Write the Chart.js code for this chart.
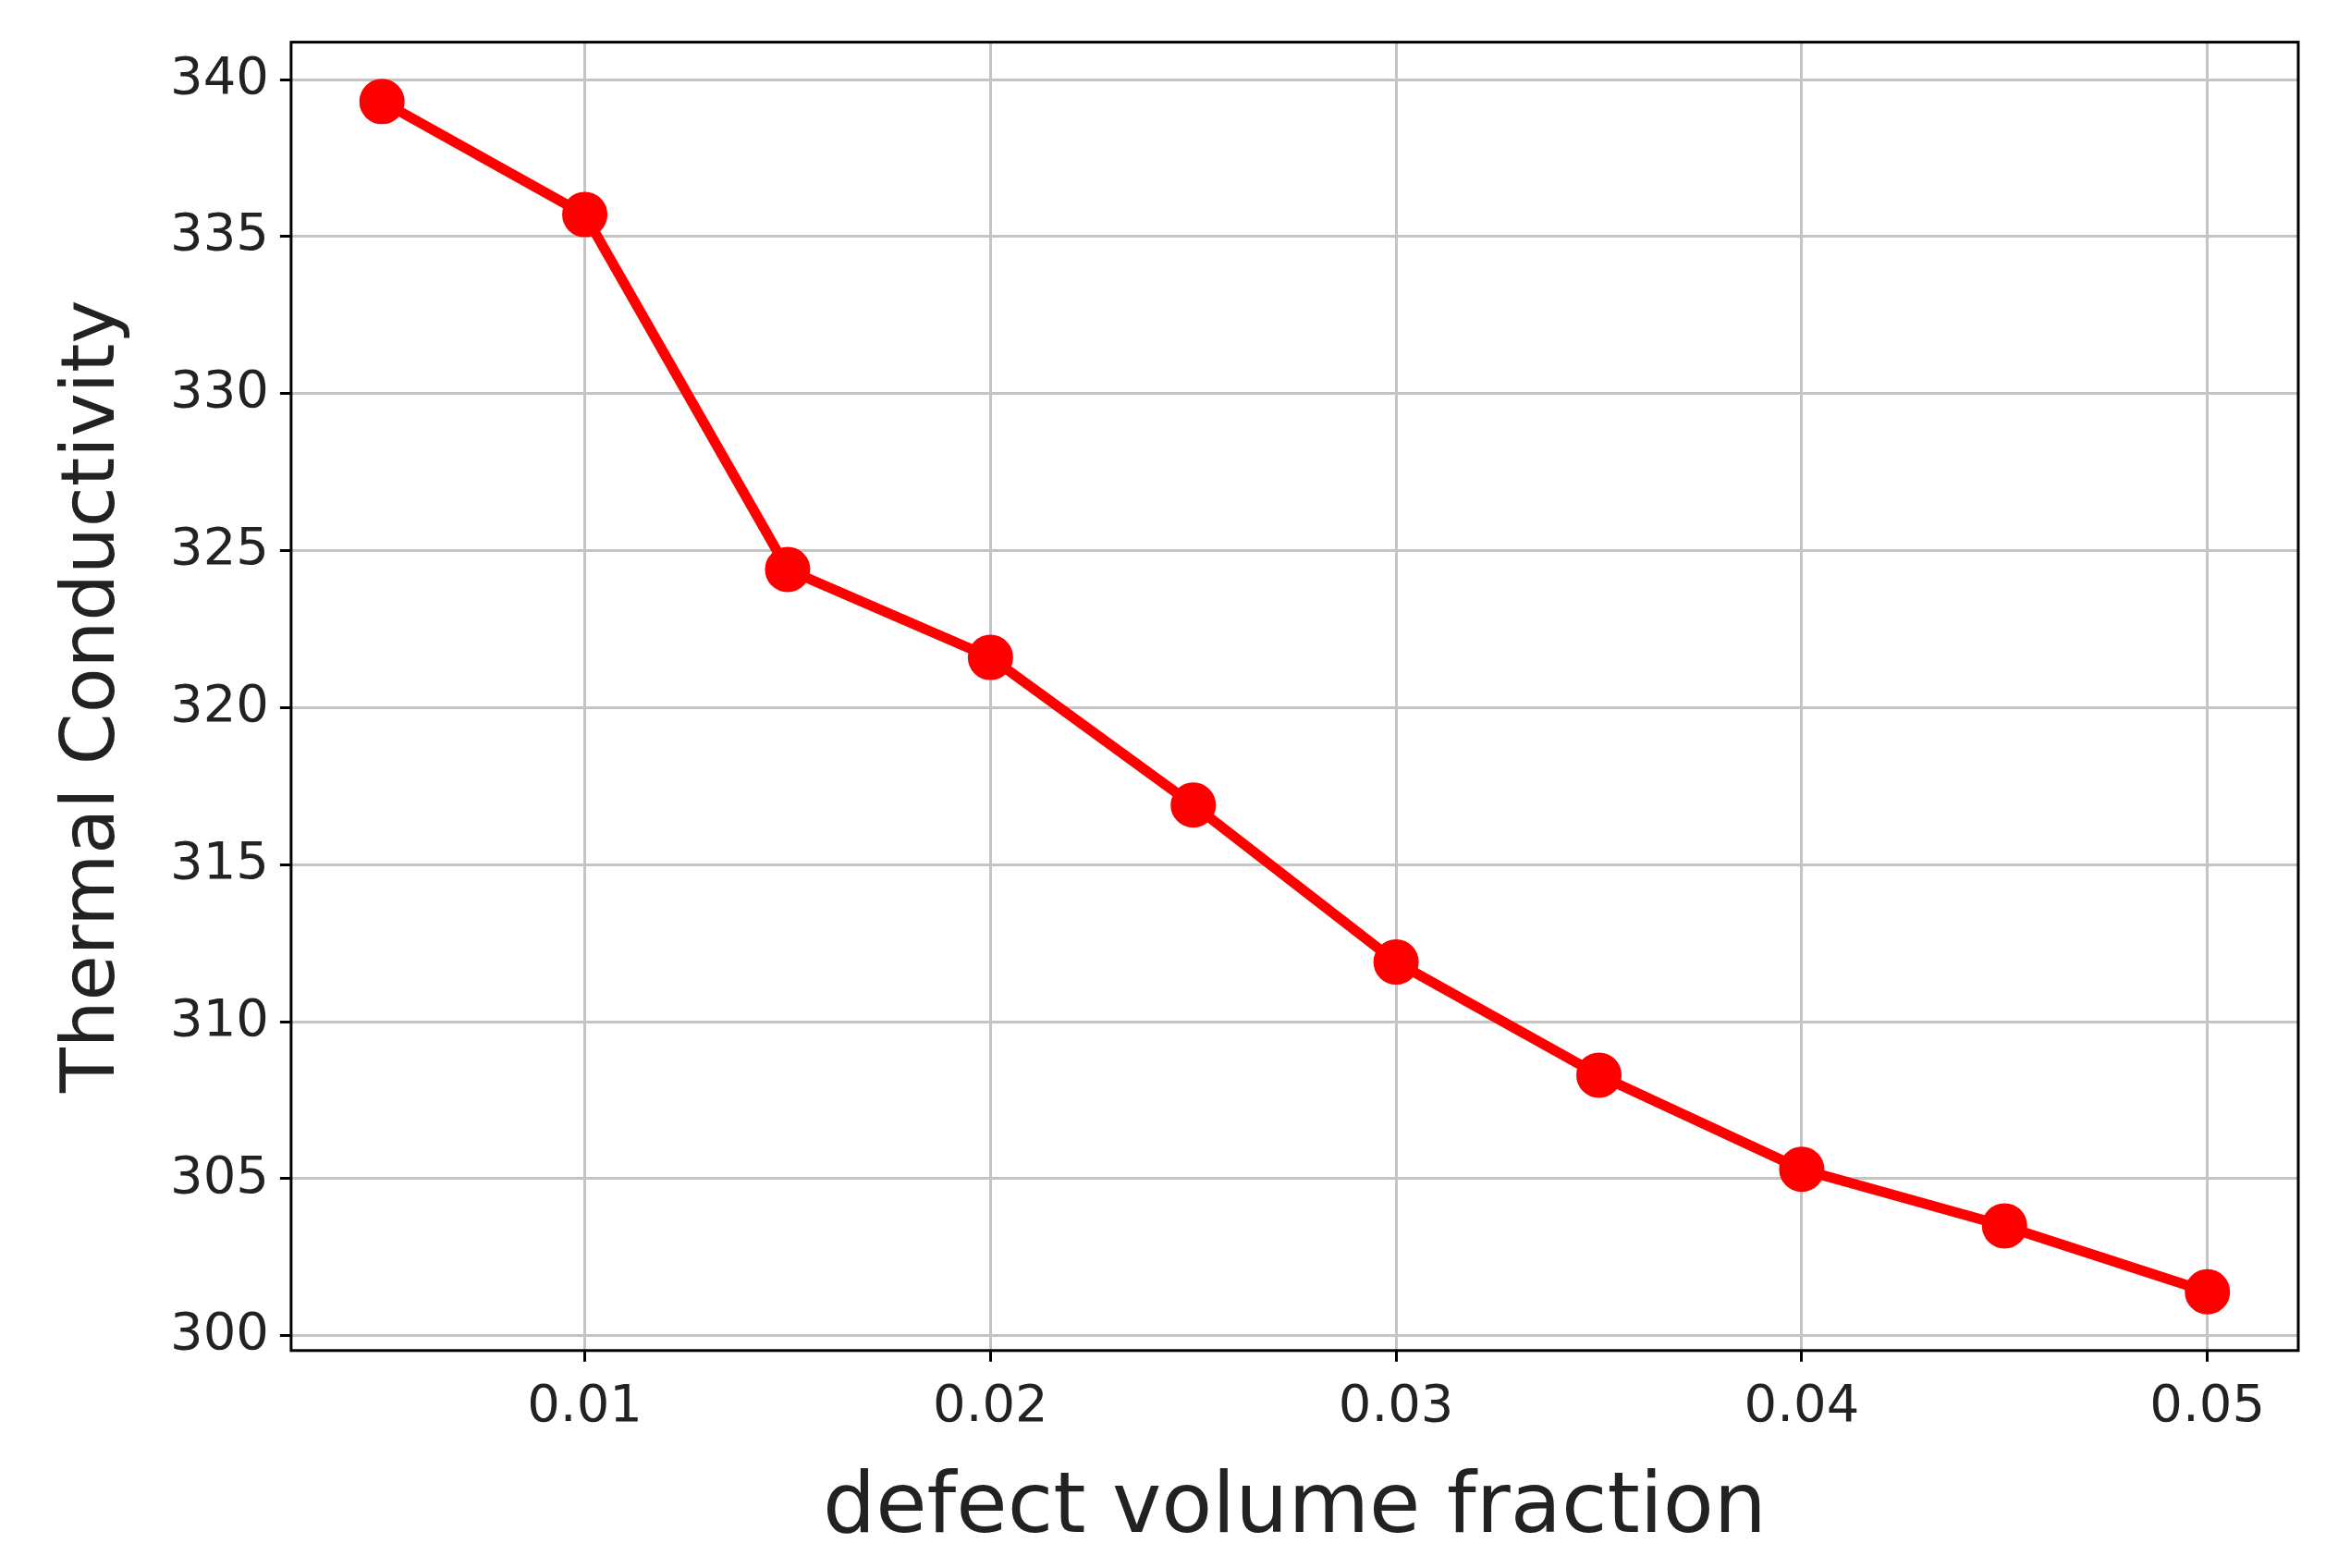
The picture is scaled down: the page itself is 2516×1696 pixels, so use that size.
<!DOCTYPE html>
<html>
<head>
<meta charset="utf-8">
<script src="https://cdn.jsdelivr.net/npm/chart.js@4/dist/chart.umd.min.js"></script>
<style>
  html, body { margin: 0; padding: 0; background: #fff; }
</style>
</head>
<body>
<canvas id="chart" width="2516" height="1696"></canvas>
<script>
// values
const fractions = [0.005, 0.01, 0.015, 0.02, 0.025, 0.03, 0.035, 0.04, 0.045, 0.05];
const conductivity = [339.3, 335.7, 324.4, 321.6, 316.9, 311.9, 308.3, 305.3, 303.5, 301.4];
const xTicks = [0.01, 0.02, 0.03, 0.04, 0.05];
const yTicks = [300, 305, 310, 315, 320, 325, 330, 335, 340];

const frame = {
  id: 'frame',
  afterDraw(chart) {
    const { ctx, chartArea: a } = chart;
    ctx.save();
    ctx.strokeStyle = '#000';
    ctx.lineWidth = 3;
    ctx.strokeRect(a.left, a.top, a.right - a.left, a.bottom - a.top);
    ctx.restore();
  }
};

new Chart(document.getElementById('chart'), {
  type: 'line',
  data: {
    datasets: [{
      data: fractions.map((x, i) => ({ x, y: conductivity[i] })),
      borderColor: '#ff0000',
      backgroundColor: '#ff0000',
      borderWidth: 11,
      pointRadius: 19,
      pointHoverRadius: 19,
      tension: 0
    }]
  },
  options: {
    responsive: false,
    devicePixelRatio: 1,
    animation: false,
    layout: { padding: { top: 38, right: 26, left: 50, bottom: 4 } },
    plugins: { legend: { display: false }, tooltip: { enabled: false } },
    scales: {
      x: {
        type: 'linear',
        min: 0.00276,
        max: 0.05224,
        afterBuildTicks: s => { s.ticks = xTicks.map(v => ({ value: v })); },
        ticks: { color: '#222', font: { family: 'DejaVu Sans', size: 56 }, padding: 16,
                 callback: v => String(Number(v.toFixed(2))) },
        grid: { color: '#c4c4c4', lineWidth: 3, tickLength: 12, tickColor: '#000' },
        border: { display: false },
        title: { display: true, text: 'defect volume fraction', color: '#222',
                 font: { family: 'DejaVu Sans', size: 90 }, padding: { top: 8 } }
      },
      y: {
        min: 299.53,
        max: 341.19,
        afterBuildTicks: s => { s.ticks = yTicks.map(v => ({ value: v })); },
        ticks: { color: '#222', font: { family: 'DejaVu Sans', size: 56 }, padding: 12 },
        grid: { color: '#c4c4c4', lineWidth: 3, tickLength: 12, tickColor: '#000' },
        border: { display: false },
        title: { display: true, text: 'Thermal Conductivity', color: '#222',
                 font: { family: 'DejaVu Sans', size: 80 }, padding: { bottom: 22 } }
      }
    }
  },
  plugins: [frame]
});
</script>
</body>
</html>
